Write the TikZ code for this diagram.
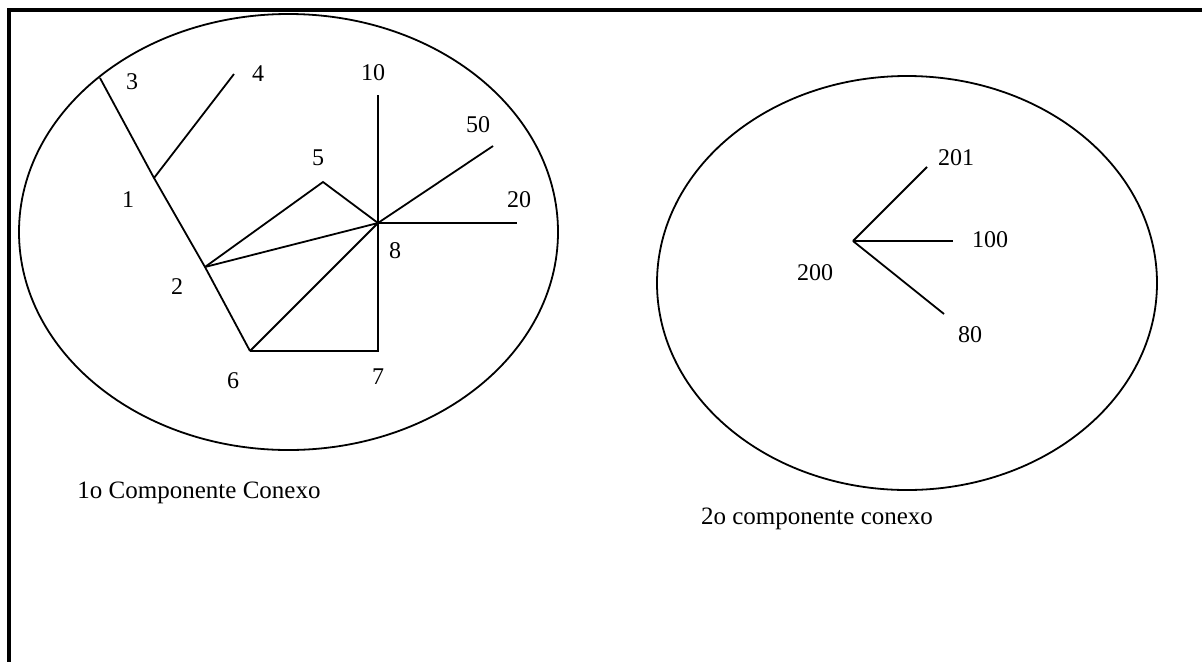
\documentclass[tikz,border=0pt]{standalone}
\usepackage{fontspec}
\setmainfont{Liberation Serif}
\begin{document}
\begin{tikzpicture}[x=1pt,y=-1pt,
  edge/.style={line width=1.8pt},
  ring/.style={line width=1.8pt},
  lbl/.style={inner sep=0pt,font=\fontsize{24}{28}\selectfont},
  captxt/.style={inner sep=0pt,font=\fontsize{25}{30}\selectfont}]
\useasboundingbox (0,0) rectangle (1202,662);
% frame
\draw[line width=4.5pt,line join=miter] (1202,10) -- (9,10) -- (9,662);
% ellipses
\draw[ring] (288.5,232) ellipse [x radius=269.5, y radius=218];
\draw[ring] (907,283) ellipse [x radius=250, y radius=207];
% points of component 1
\coordinate (p3) at (100,78);
\coordinate (p1) at (154,178);
\coordinate (p4) at (234,74);
\coordinate (p2) at (205,267);
\coordinate (p6) at (250,351);
\coordinate (p7) at (378,351);
\coordinate (p8) at (378,223);
\coordinate (p5) at (323,182);
\coordinate (p10) at (378,95);
\coordinate (p50) at (493,146);
\coordinate (p20) at (517,223);
% points of component 2
\coordinate (q200) at (853,241);
\coordinate (q201) at (927,167);
\coordinate (q100) at (953,241);
\coordinate (q80) at (944,314);
% edges component 1
\draw[edge] (p3) -- (p1) -- (p2) -- (p6);
\draw[edge] (p1) -- (p4);
\draw[edge] (p2) -- (p5) -- (p8);
\draw[edge] (p2) -- (p8);
\draw[edge] (p6) -- (p8);
\draw[edge] (p6) -- (p7) -- (p8);
\draw[edge] (p8) -- (p10);
\draw[edge] (p8) -- (p50);
\draw[edge] (p8) -- (p20);
% edges component 2
\draw[edge] (q200) -- (q201);
\draw[edge] (q200) -- (q100);
\draw[edge] (q200) -- (q80);
% labels component 1
\node[lbl] (l3) at (132,82) {3};
\node[lbl] (l4) at (258,74) {4};
\node[lbl] (l10) at (373,73) {10};
\node[lbl] (l50) at (478,125) {50};
\node[lbl] (l5) at (318,158) {5};
\node[lbl] (l20) at (519,200) {20};
\node[lbl] (l1) at (128,200) {1};
\node[lbl] (l8) at (395,251) {8};
\node[lbl] (l2) at (177,287) {2};
\node[lbl] (l6) at (233,381) {6};
\node[lbl] (l7) at (378,377) {7};
% labels component 2
\node[lbl] (l201) at (956,158) {201};
\node[lbl] (l100) at (990,240) {100};
\node[lbl] (l200) at (815,273) {200};
\node[lbl] (l80) at (970,335) {80};
% captions
\node[captxt] (c1) at (199,493) {1o Componente Conexo};
\node[captxt] (c2) at (817,519) {2o componente conexo};
\end{tikzpicture}
\end{document}
